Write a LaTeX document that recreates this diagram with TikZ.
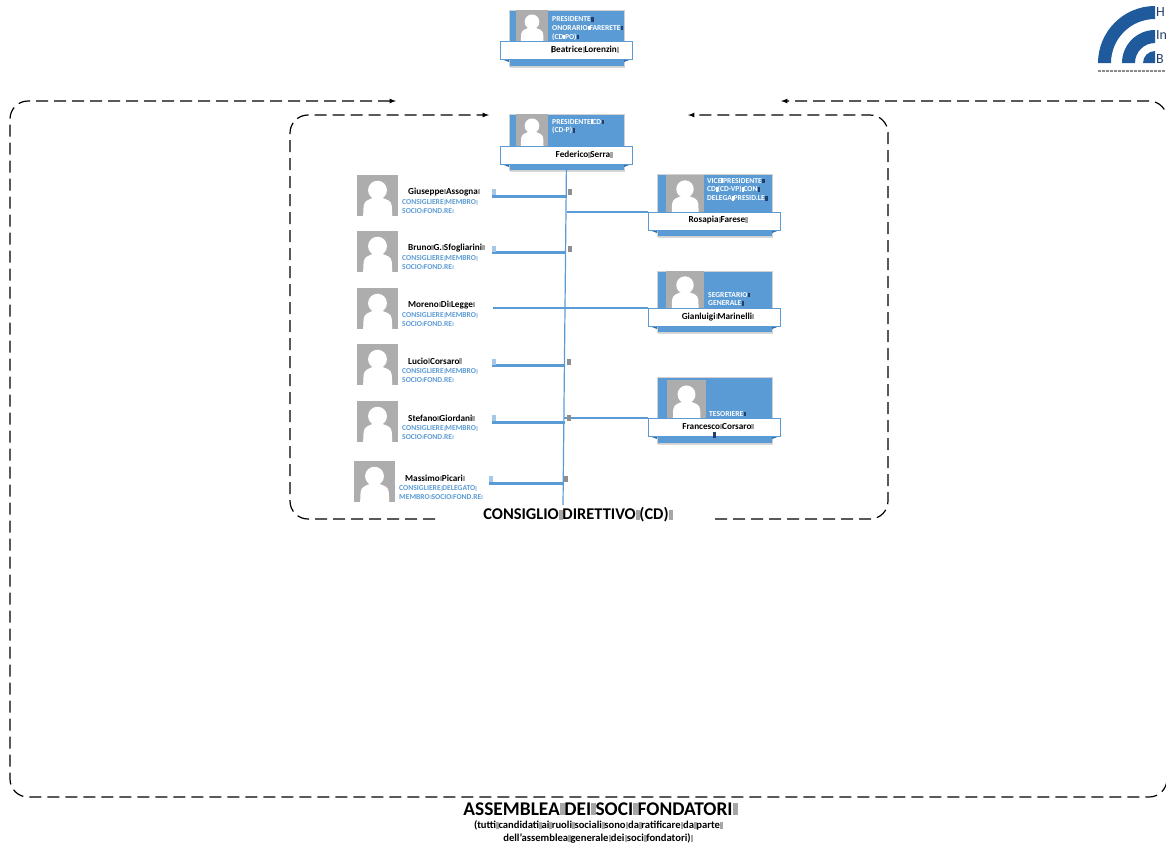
\documentclass[tikz,border=0pt]{standalone}
\usepackage{fontspec}
\setmainfont{Carlito}
\usetikzlibrary{shadows}
\definecolor{cardblue}{HTML}{5B9BD5}
\definecolor{folddark}{HTML}{2E6DA8}
\definecolor{photogray}{HTML}{ADADAD}
\definecolor{logoblue}{HTML}{1F5A9C}
\definecolor{tofunavy}{HTML}{24406A}
% missing glyph marks, laid over the word gaps
\newcommand{\tf}{\rlap{\textcolor{.!35}{\rule{.26em}{.62em}}}}
\newcommand{\tfd}{\hspace{.5pt}\textcolor{tofunavy}{\rule{.3em}{.6em}}}
\newcommand{\tfm}{\textcolor{.!55}{\rule{.5em}{.75em}}}
\newcommand{\avatar}[4]{%
  \node[photobox,minimum size=#4pt] (#1) at (#2,#3) {};
  \begin{scope}[shift={(#1.north west)},x=#4pt,y=-#4pt]
    \fill[white] (.5,.37) circle (.23);
    \fill[white] (.15,1) -- (.16,.76) .. controls (.17,.62) and (.3,.6) .. (.38,.56)
      -- (.62,.56) .. controls (.72,.6) and (.84,.62) .. (.85,.76) -- (.86,1) -- cycle;
  \end{scope}}
\newcommand{\card}[8]{%
  \node[cardbox,minimum height=#4pt] (#1) at (#2,#3) {};
  \avatar{#1p}{#2+#5}{#3+#7}{#6}
  \fill[folddark] (#2-9,#3+#8+17.5) -- (#2,#3+#8+17.5) -- (#2,#3+#8+21) -- cycle;
  \fill[folddark] (#2+124,#3+#8+17.5) -- (#2+115,#3+#8+17.5) -- (#2+115,#3+#8+21) -- cycle;}
\newcommand{\member}[5]{%
  \avatar{#1}{#2}{#3}{41}
  \node[namefont,anchor=west] (#1n) at (#2+51,#3+17) {#4};
  \node[rolefont,text=cardblue,anchor=north west] (#1r) at (#2+45,#3+24.5) {#5};}
\begin{document}
\begin{tikzpicture}[x=1pt,y=-1pt,>=latex,
    cardbox/.style={rectangle,anchor=north west,fill=cardblue,draw=black!18,line width=.8pt,minimum width=115pt,inner sep=0,drop shadow={opacity=.3,shadow xshift=.8pt,shadow yshift=-1.5pt}},
    photobox/.style={rectangle,anchor=north west,fill=photogray,inner sep=0},
    ribbon/.style={rectangle,anchor=north west,fill=white,draw=cardblue,line width=.9pt,minimum width=132pt,minimum height=17.5pt,inner sep=0,font=\fontsize{9.2}{10}\selectfont\bfseries},
    namefont/.style={inner sep=0,font=\fontsize{9.2}{10}\selectfont\bfseries},
    rolefont/.style={inner sep=0,align=left,font=\fontsize{7.6}{8.8}\selectfont\bfseries},
    frameline/.style={line width=1.2pt,dash pattern=on 12pt off 6pt,rounded corners=18pt},
    thinlink/.style={cardblue,line width=1.2pt},
    thicklink/.style={cardblue,line width=3pt}]
    \useasboundingbox (0,0) rectangle (1166,847);

    % logo
    \fill[logoblue] (1098,63) arc (180:270:57) -- (1155,19) arc (270:180:44) -- cycle;
    \fill[logoblue] (1122,63) arc (180:270:33) -- (1155,43) arc (270:180:20) -- cycle;
    \fill[logoblue] (1143,63) arc (180:270:12) -- (1155,63) -- cycle;
    \node[anchor=west,inner sep=0,text=tofunavy,font=\fontsize{14}{14}\selectfont] (h) at (1156,12) {H};
    \node[anchor=west,inner sep=0,text=tofunavy,font=\fontsize{14}{14}\selectfont] (i) at (1156,35) {In};
    \node[anchor=west,inner sep=0,text=tofunavy,font=\fontsize{14}{14}\selectfont] (b) at (1156,59) {B};
    \draw[black!45,line width=1.2pt,dash pattern=on 3pt off 1pt] (1098,71) -- (1166,71);

    % frames
    \coordinate (oa) at (396,101);
    \coordinate (ob) at (781,101);
    \coordinate (ia) at (489,115);
    \coordinate (ib) at (688,115);
    \coordinate (ic) at (435,519);
    \coordinate (id) at (715,519);
    \draw[<->,frameline] (oa) -| (10,797) -| (1167,101) -- (ob);
    \draw[->,frameline] (ic) -| (290,115) -- (ia);
    \draw[->,frameline] (id) -| (888,115) -- (ib);

    % cards
    \card{c0}{509}{10}{56}{7}{32}{0}{31}
    \card{c1}{509}{114}{56}{7}{32}{0}{32}
    \card{c2}{657}{174}{62}{9}{38}{1}{38}
    \card{c3}{657}{271}{61}{9}{38}{0}{37}
    \card{c4}{657}{377}{66}{10}{39}{3}{41}

    % spine and links
    \coordinate (s) at (563,505);
    \coordinate (t2) at (567,212);
    \coordinate (t3) at (565,308);
    \coordinate (t4) at (564,418);
    \node[ribbon] (r0) at (500,41) {\hspace*{35pt}\raisebox{1pt}{\tf\hphantom{\tf}Beatrice\tf{} Lorenzin\tf}};
    \node[ribbon] (r1) at (500,146) {\hspace*{33pt}\raisebox{1pt}{Federico\tf{} Serra\tf}};
    \node[ribbon] (r2) at (648,212) {\hspace*{5pt}\raisebox{3pt}{Rosapia\tf{} Farese\tf}};
    \node[ribbon] (r3) at (648,308) {\hspace*{5pt}\raisebox{2pt}{Gianluigi\tf{} Marinelli\tf}};
    \node[ribbon] (r4) at (648,418) {\hspace*{5pt}\raisebox{1.5pt}{Francesco\tf{} Corsaro\tf}};
    \draw [-,thinlink] (r1.south) -- (s);
    \draw [-,thinlink] (t2) -- (r2.north west);
    \draw [-,thinlink] (t3) -- (r3.north west);
    \draw [-,thinlink] (t4) -- (r4.north west);

    % roles on the cards
    \node[rolefont,text=white,anchor=north west] (l0) at (552,16.5) {PRESIDENTE\tfd\\ONORARIO\tf{} FARERETE\tfd\\(CD\tf{} PO)\tfd};
    \node[rolefont,text=white,anchor=north west] (l1) at (552,119) {PRESIDENTE\tf{} CD\tfd\\(CD-P)\tfd};
    \node[rolefont,text=white,anchor=north west] (l2) at (707,178) {VICE\tf{} PRESIDENTE\tfd\\CD\tf{} (CD-VP)\tf{} CON\tfd\\DELEGA\tf{} PRESID.LE\tfd};
    \node[rolefont,text=white,anchor=north west] (l3) at (708,292) {SEGRETARIO\tfd\\GENERALE\tfd};
    \node[rolefont,text=white,anchor=north west] (l4) at (709,411) {TESORIERE\tfd};
    \node[namefont] (e4) at (714,435) {\tfd};

    % members
    \member{m1}{357}{175}{Giuseppe\tf{} Assogna\tf}{CONSIGLIERE\tf{} MEMBRO\tf\\SOCIO\tf{} FOND.RE\tf}
    \member{m2}{357}{231}{Bruno\tf{} G.\tf{} Sfogliarini\tf}{CONSIGLIERE\tf{} MEMBRO\tf\\SOCIO\tf{} FOND.RE\tf}
    \member{m3}{357}{288}{Moreno\tf{} Di\tf{} Legge\tf}{CONSIGLIERE\tf{} MEMBRO\tf\\SOCIO\tf{} FOND.RE\tf}
    \member{m4}{357}{344}{Lucio\tf{} Corsaro\tf}{CONSIGLIERE\tf{} MEMBRO\tf\\SOCIO\tf{} FOND.RE\tf}
    \member{m5}{357}{401}{Stefano\tf{} Giordani\tf}{CONSIGLIERE\tf{} MEMBRO\tf\\SOCIO\tf{} FOND.RE\tf}
    \member{m6}{354}{461}{Massimo\tf{} Picari\tf}{CONSIGLIERE\tf{} DELEGATO\tf\\MEMBRO\tf{} SOCIO\tf{} FOND.RE\tf}

    % bars from the members to the spine
    \coordinate (a1) at (492,196);
    \coordinate (b1) at (567,196);
    \coordinate (a2) at (492,252);
    \coordinate (b2) at (566,252);
    \coordinate (a3) at (493,308);
    \coordinate (b3) at (565,308);
    \coordinate (a4) at (492,365);
    \coordinate (b4) at (565,365);
    \coordinate (a5) at (492,422);
    \coordinate (b5) at (565,422);
    \coordinate (a6) at (489,483);
    \coordinate (b6) at (564,483);
    \draw [-,thicklink] (a1) -- (b1);
    \draw [-,thicklink] (a2) -- (b2);
    \draw [-,thinlink] (a3) -- (b3);
    \draw [-,thicklink] (a4) -- (b4);
    \draw [-,thicklink] (a5) -- (b5);
    \draw [-,thicklink] (a6) -- (b6);

    % stray marks beside the bars
    \node[namefont,text=cardblue] (p1) at (494,192) {\tfm};
    \node[namefont,text=cardblue] (p2) at (494,249) {\tfm};
    \node[namefont,text=cardblue] (p4) at (494,362) {\tfm};
    \node[namefont,text=cardblue] (p5) at (494,418) {\tfm};
    \node[namefont,text=cardblue] (p6) at (491,479) {\tfm};
    \node[namefont,text=black!80] (q1) at (570,192) {\tfm};
    \node[namefont,text=black!80] (q2) at (570,249) {\tfm};
    \node[namefont,text=black!80] (q4) at (569,362) {\tfm};
    \node[namefont,text=black!80] (q5) at (569,418) {\tfm};
    \node[namefont,text=black!80] (q6) at (566,479) {\tfm};

    % titles
    \node[inner sep=0,font=\fontsize{16.4}{18}\selectfont\bfseries] (cd) at (576,515) {CONSIGLIO\tf{} DIRETTIVO\tf{} (CD)\tf};
    \node[inner sep=0,font=\fontsize{19.4}{21}\selectfont\bfseries] (as) at (598,809) {ASSEMBLEA\tf{} DEI\tf{} SOCI\tf{} FONDATORI\tf};
    \node[inner sep=0,align=center,font=\fontsize{10.6}{13}\selectfont\bfseries] (su) at (597,832) {(tutti\tf{} candidati\tf{} ai\tf{} ruoli\tf{} sociali\tf{} sono\tf{} da\tf{} ratificare\tf{} da\tf{} parte\tf\\dell’assemblea\tf{} generale\tf{} dei\tf{} soci\tf{} fondatori)\tf};
\end{tikzpicture}
\end{document}
